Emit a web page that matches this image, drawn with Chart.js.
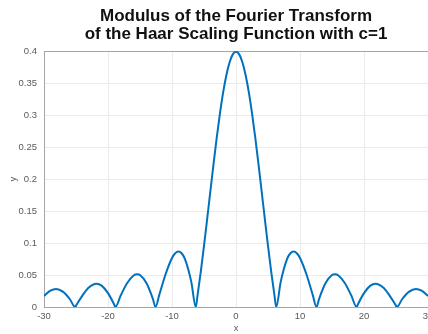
<!DOCTYPE html>
<html>
<head>
<meta charset="utf-8">
<script src="https://cdn.jsdelivr.net/npm/chart.js@4/dist/chart.umd.min.js"></script>
<style>
  html, body { margin: 0; padding: 0; background: #fff; overflow: hidden; }
  #wrap { width: 428px; height: 334px; }
</style>
</head>
<body>
<div id="wrap"><canvas id="grafico" width="428" height="334"></canvas></div>
<script>
// valores (x, |F|)
const xs = [
  -30, -29, -28.1, -27, -26, -25.13, -25, -24, -23, -21.8, -21, -20, -19, -18.85, -18, -17, -16, -15.45, -15, -14, -13,
  -12.57, -12, -11, -10, -9.5, -9, -8.5, -8, -7, -6.28, -6, -5.5, -5, -4.5, -4, -3.5, -3, -2.5, -2, -1.5,
  -1, -0.5, 0, 0.5, 1, 1.5, 2, 2.5, 3, 3.5, 4, 4.5, 5, 5.5, 6, 6.28, 7, 8, 8.5, 9,
  9.5, 10, 11, 12, 12.57, 13, 14, 15, 15.45, 16, 17, 18, 18.85, 19, 20, 21, 21.8, 23, 24, 25, 25.13,
  26, 27, 28.1, 29, 30
];
const ys = [
  0.0173, 0.0257, 0.0283, 0.0237, 0.0129, 0, 0.0021, 0.0178, 0.0304, 0.0364, 0.0334, 0.0217, 0.0032, 0, 0.0183, 0.0375, 0.0493, 0.0512, 0.0499, 0.0374, 0.0132,
  0, 0.0186, 0.0512, 0.0765, 0.0839, 0.0867, 0.0840, 0.0755, 0.0400, 0, 0.0188, 0.0554, 0.0955, 0.1380, 0.1814, 0.2243, 0.2653, 0.3029, 0.3357, 0.3626,
  0.3825, 0.3948, 0.3989, 0.3948, 0.3825, 0.3626, 0.3357, 0.3029, 0.2653, 0.2243, 0.1814, 0.1380, 0.0955, 0.0554, 0.0188, 0, 0.0400, 0.0755, 0.0840, 0.0867,
  0.0839, 0.0765, 0.0512, 0.0186, 0, 0.0132, 0.0374, 0.0499, 0.0512, 0.0493, 0.0375, 0.0183, 0, 0.0032, 0.0217, 0.0334, 0.0364, 0.0304, 0.0178, 0.0021, 0,
  0.0129, 0.0237, 0.0283, 0.0257, 0.0173
];
const xTicks = [-30, -20, -10, 0, 10, 20, 30];
const yTicks = [0, 0.05, 0.1, 0.15, 0.2, 0.25, 0.3, 0.35, 0.4];
const titulo = ["Modulus of the Fourier Transform", "of the Haar Scaling Function with c=1"];

const pontos = xs.map((x, i) => ({ x: x, y: ys[i] }));
const corEixo = '#a6a6a6';
const corTexto = '#5a5a5a';
const corGrade = '#ebebeb';
const fonte = 'Liberation Sans, Arial, sans-serif';

new Chart(document.getElementById('grafico').getContext('2d'), {
  type: 'line',
  data: {
    datasets: [{
      data: pontos,
      borderColor: '#0072BD',
      borderWidth: 2,
      pointRadius: 0,
      cubicInterpolationMode: 'monotone',
      fill: false
    }]
  },
  options: {
    responsive: false,
    animation: false,
    layout: { padding: 0 },
    plugins: {
      legend: { display: false },
      tooltip: { enabled: false },
      title: {
        display: true,
        fullSize: false,
        text: titulo,
        color: '#111',
        font: { family: fonte, size: 17, weight: 'bold', lineHeight: 1.06 },
        padding: { top: 7, bottom: 8 }
      }
    },
    scales: {
      x: {
        type: 'linear',
        min: -30,
        max: 30,
        afterBuildTicks: s => { s.ticks = xTicks.map(v => ({ value: v })); },
        afterFit: s => { s.height = 27; s.paddingLeft = 0; s.paddingRight = 0; },
        grid: {
          color: c => (c.tick && c.tick.value === 30 ? corEixo : corGrade),
          drawTicks: false
        },
        border: { color: corEixo },
        ticks: {
          color: corTexto,
          padding: 4,
          maxRotation: 0,
          autoSkip: false,
          font: { family: fonte, size: 9.5 }
        },
        title: {
          display: true,
          text: 'x',
          color: corTexto,
          padding: 0,
          font: { family: fonte, size: 9.5 }
        }
      },
      y: {
        min: 0,
        max: 0.4,
        afterBuildTicks: s => { s.ticks = yTicks.map(v => ({ value: v })); },
        afterFit: s => { s.width = 44; s.paddingTop = 0; s.paddingBottom = 0; },
        grid: {
          color: c => (c.tick && c.tick.value === 0.4 ? corEixo : corGrade),
          drawTicks: false
        },
        border: { color: corEixo },
        ticks: {
          color: corTexto,
          padding: 7,
          autoSkip: false,
          font: { family: fonte, size: 9.5 },
          callback: v => String(Number(v.toFixed(2)))
        },
        title: {
          display: true,
          text: 'y',
          color: corTexto,
          padding: { top: 8, bottom: 2 },
          font: { family: fonte, size: 9.5 }
        }
      }
    }
  }
});
</script>
</body>
</html>
